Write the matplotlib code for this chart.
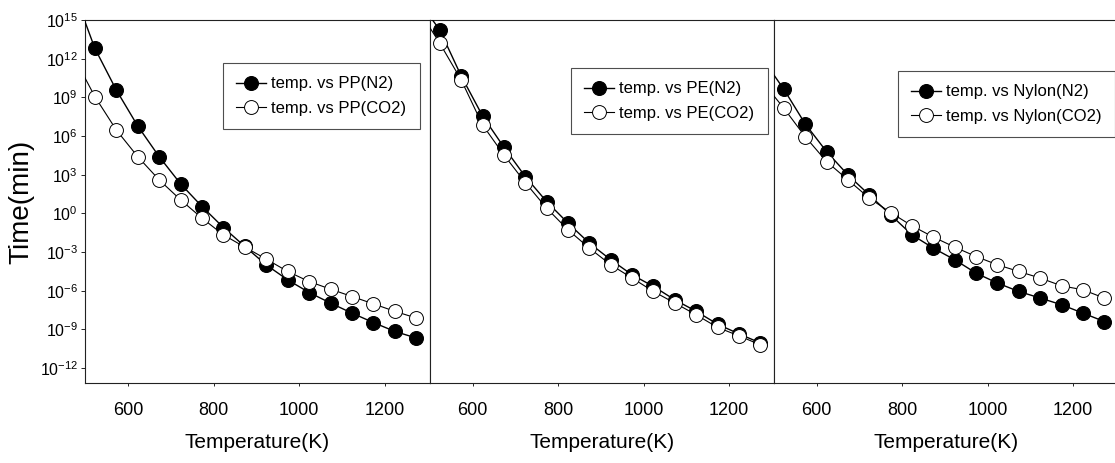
import numpy as np
import matplotlib
matplotlib.use("Agg")
import matplotlib.pyplot as plt
from matplotlib.ticker import FixedLocator, FuncFormatter, NullLocator

plt.rcParams['font.family'] = ['Liberation Sans', 'DejaVu Sans']
plt.rcParams['mathtext.default'] = 'regular'

# Temperatures (K); the 473 K value lies just outside the plotted range
temperature = [473, 523, 573, 623, 673, 723, 773, 823, 873, 923, 973,
               1023, 1073, 1123, 1173, 1223, 1273]

# log10 of time (min)
pp_n2 = [17.3, 12.8, 9.57, 6.78, 4.4, 2.29, 0.53, -1.1, -2.57, -4.0, -5.16,
         -6.14, -6.96, -7.74, -8.47, -9.16, -9.67]
pp_co2 = [12.2, 9.06, 6.47, 4.4, 2.6, 1.05, -0.37, -1.67, -2.62, -3.55, -4.51,
          -5.29, -5.88, -6.45, -7.02, -7.6, -8.12]
pe_n2 = [16.5, 14.22, 10.66, 7.56, 5.13, 2.85, 0.91, -0.76, -2.31, -3.6, -4.77,
         -5.67, -6.71, -7.6, -8.6, -9.35, -10.05]
pe_co2 = [15.8, 13.19, 10.35, 6.86, 4.53, 2.39, 0.40, -1.28, -2.70, -3.99, -5.02,
          -6.06, -6.96, -7.87, -8.85, -9.5, -10.2]
nylon_n2 = [12.0, 9.63, 6.94, 4.79, 2.98, 1.43, -0.12, -1.67, -2.7, -3.6, -4.64,
            -5.41, -6.06, -6.57, -7.09, -7.74, -8.39]
nylon_co2 = [10.2, 8.16, 5.95, 4.02, 2.6, 1.18, 0.06, -0.97, -1.84, -2.62, -3.35,
             -3.99, -4.51, -5.02, -5.62, -5.93, -6.57]

panels = [
    ("PP", pp_n2, pp_co2),
    ("PE", pe_n2, pe_co2),
    ("Nylon", nylon_n2, nylon_co2),
]
xticks = [600, 800, 1000, 1200]
yticks_exp = list(range(-12, 16, 3))
xlabel = "Temperature(K)"
ylabel = "Time(min)"

W, H = 1115, 463
fig = plt.figure(figsize=(W / 100, H / 100), dpi=100)

# axes boxes in pixels: (left, right)
boxes = [(85, 430), (430, 774), (774, 1118)]
top_px, bot_px = 20, 383
legend_px = [(223, 63), (571, 68), (898, 71)]

for i, ((name, n2, co2), (l, r)) in enumerate(zip(panels, boxes)):
    ax = fig.add_axes([l / W, 1 - bot_px / H, (r - l) / W, (bot_px - top_px) / H])
    T = np.array(temperature)
    ax.plot(T, 10.0 ** np.array(n2), '-', color='black', lw=1.0, marker='o',
            ms=10, mfc='black', mec='black', mew=0.8,
            label=f"temp. vs {name}(N2)", zorder=3)
    ax.plot(T, 10.0 ** np.array(co2), '-', color='black', lw=0.8, marker='o',
            ms=10, mfc='white', mec='black', mew=0.7,
            label=f"temp. vs {name}(CO2)", zorder=4)
    ax.set_yscale('log')
    ax.set_xlim(500, 1305)
    ax.set_ylim(10 ** -13.16, 1e15)
    ax.yaxis.set_major_locator(FixedLocator([10.0 ** e for e in yticks_exp]))
    ax.yaxis.set_minor_locator(NullLocator())
    ax.xaxis.set_major_locator(FixedLocator(xticks))
    ax.xaxis.set_minor_locator(NullLocator())
    ax.yaxis.set_major_formatter(FuncFormatter(
        lambda v, p: r'$10^{%d}$' % int(round(np.log10(v)))))
    ax.tick_params(axis='x', labelsize=13, length=2, pad=12, width=0.6)
    ax.tick_params(axis='y', labelsize=11.5, length=3, pad=2, width=0.6)
    if i > 0:
        ax.tick_params(axis='y', labelleft=False, length=0)
    for s in ax.spines.values():
        s.set_linewidth(0.8)
        s.set_color('#222222')
    ax.set_xlabel(xlabel, fontsize=15, labelpad=10)
    if i == 0:
        ax.set_ylabel(ylabel, fontsize=20, labelpad=4)
    lx, ly = legend_px[i]
    leg = ax.legend(loc='upper left', bbox_to_anchor=(lx / W, 1 - ly / H),
                    bbox_transform=fig.transFigure, borderaxespad=0,
                    fontsize=12, frameon=True, fancybox=False,
                    handlelength=1.8, handletextpad=0.3, labelspacing=0.55,
                    borderpad=0.8)
    leg.get_frame().set_edgecolor('#222222')
    leg.get_frame().set_linewidth(0.8)

fig.savefig("out.png", dpi=100)
